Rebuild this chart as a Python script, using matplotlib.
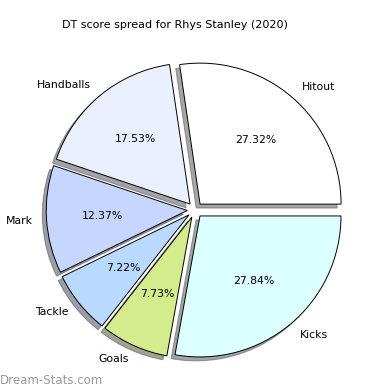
import matplotlib
matplotlib.use("Agg")
import matplotlib.pyplot as plt

labels = ["Hitout", "Handballs", "Mark", "Tackle", "Goals", "Kicks"]
values = [53, 34, 24, 14, 15, 54]
colors = ["#ffffff", "#eaf0ff", "#c6d6ff", "#b9d9ff", "#d4ec8c", "#dcffff"]
title = "DT score spread for Rhys Stanley (2020)"
watermark = "Dream-Stats.com"

fig = plt.figure(figsize=(3.9, 3.9), dpi=100)
ax = fig.add_axes([0, 0, 1, 1])
R = 141.0
cx, cy = 195.0, 180.0  # pixels from bottom-left
wedges, texts, autotexts = ax.pie(
    values, labels=labels, colors=colors, autopct="%.2f%%",
    startangle=0, counterclock=True, explode=[0.055] * len(values),
    shadow=True,
    wedgeprops=dict(edgecolor="black", linewidth=0.7),
    textprops=dict(fontsize=7.8),
)
ax.set_xlim(-cx / R, (390 - cx) / R)
ax.set_ylim(-cy / R, (390 - cy) / R)
ax.set_aspect("equal", adjustable="datalim")
ax.axis("off")

fig.text(175 / 390, 1 - 25 / 390, title, ha="center", va="center", fontsize=8)
fig.text(0.0, 1 - 380 / 390, watermark, ha="left", va="center", fontsize=8.5,
         color="#999999", fontweight="medium")

fig.savefig("out.png", dpi=100)
